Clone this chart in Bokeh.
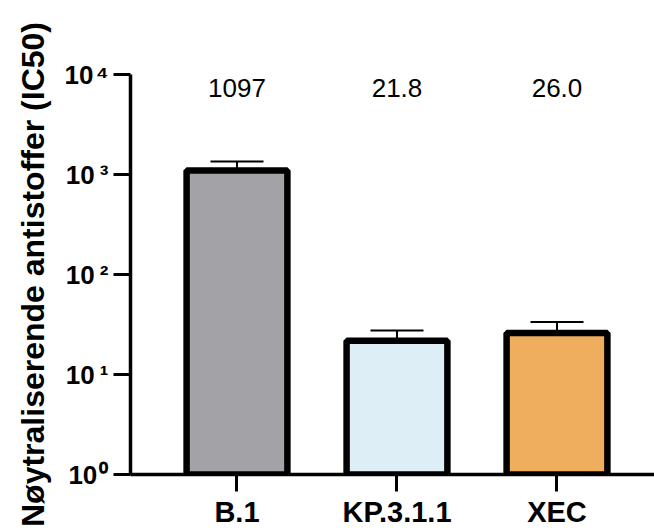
from bokeh.plotting import figure
from bokeh.models import Range1d, FixedTicker, CustomJSTickFormatter, ColumnDataSource, Whisker, TeeHead
from bokeh.core.properties import value
from bokeh.embed import file_html
from bokeh.resources import INLINE

# ---- data ----
categories = ["B.1", "KP.3.1.1", "XEC"]
ic50 = [1097, 21.8, 26.0]
err_upper = [1350, 27.5, 33.5]
value_labels = ["1097", "21.8", "26.0"]
colors = ["#a3a2a7", "#deeef6", "#eeae5e"]
y_ticks = [1, 10, 100, 1000, 10000]
y_min, y_max = 1, 10000

FONT = "Liberation Sans"
xs = list(range(len(categories)))

p = figure(width=654, height=531, output_backend="svg", toolbar_location=None,
           y_axis_type="log", x_range=Range1d(-0.6656, 2.6094), y_range=Range1d(y_min, y_max),
           min_border_left=130, min_border_top=74, min_border_bottom=57, min_border_right=0)
p.outline_line_color = None
p.xgrid.grid_line_color = None
p.ygrid.grid_line_color = None
p.background_fill_color = "white"

src = ColumnDataSource(dict(x=xs, top=ic50, upper=err_upper, color=colors, lbl=value_labels,
                            ylab=[y_max] * len(xs)))

# error bars (upper only)
w = Whisker(source=src, base="x", lower="top", upper="upper", line_color="black", line_width=2,
            upper_head=TeeHead(size=53, line_width=2, line_color="black"), lower_head=None,
            level="underlay")
p.add_layout(w)

p.vbar(x="x", top="top", bottom=y_min, width=0.63, source=src, fill_color="color",
       line_color="black", line_width=6.5)

p.text(x="x", y="ylab", text="lbl", source=src, y_offset=13, text_align="center",
       text_baseline="alphabetic", text_font=value(FONT), text_font_size="26px", text_color="black")

# axes
for ax in (p.xaxis[0], p.yaxis[0]):
    ax.axis_line_width = 3.5
    ax.axis_line_color = "black"
    ax.major_tick_line_width = 3
    ax.major_tick_line_color = "black"
    ax.major_tick_in = 0
    ax.major_tick_out = 17
    ax.minor_tick_line_color = None
    ax.major_label_text_font = FONT
    ax.major_label_text_font_style = "bold"
    ax.major_label_text_color = "black"

p.xaxis.ticker = FixedTicker(ticks=xs)
p.xaxis.major_label_overrides = {i: c for i, c in enumerate(categories)}
p.xaxis.major_label_text_font_size = "29px"
p.xaxis.major_label_standoff = 4

p.yaxis.ticker = FixedTicker(ticks=y_ticks)
p.yaxis.formatter = CustomJSTickFormatter(code="""
const sup = {"0":"\u2070","1":"\u00b9","2":"\u00b2","3":"\u00b3","4":"\u2074","5":"\u2075","6":"\u2076","7":"\u2077","8":"\u2078","9":"\u2079","-":"\u207b"};
const e = String(Math.round(Math.log10(tick)));
const gap = "123".includes(e[0]) ? "\u2009" : "\u200a";
return "10" + gap + e.split("").map(c => sup[c]).join("");
""")
p.yaxis.major_label_text_font_size = "26px"
p.yaxis.major_label_standoff = 5
p.yaxis.axis_label = "Nøytraliserende antistoffer (IC50)"
p.yaxis.axis_label_text_font = FONT
p.yaxis.axis_label_text_font_style = "bold"
p.yaxis.axis_label_text_font_size = "32px"
p.yaxis.axis_label_text_color = "black"
p.yaxis.axis_label_standoff = 11

open("out.html", "w").write(file_html(p, INLINE))
